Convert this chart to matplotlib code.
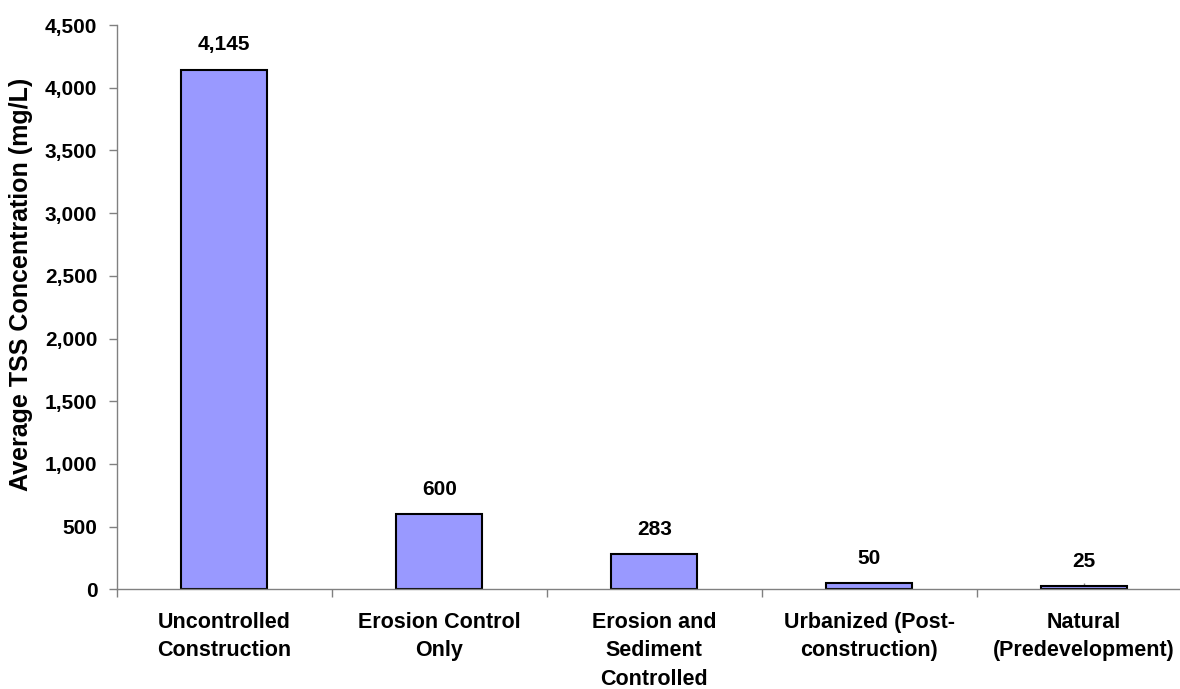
import numpy as np
import matplotlib
matplotlib.use("Agg")
import matplotlib.pyplot as plt
from matplotlib.ticker import FuncFormatter, FixedLocator

plt.rcParams['font.family'] = ['Liberation Sans', 'DejaVu Sans']
plt.rcParams['font.weight'] = 'bold'

categories = ["Uncontrolled\nConstruction", "Erosion Control\nOnly",
              "Erosion and\nSediment\nControlled", "Urbanized (Post-\nconstruction)",
              "Natural\n(Predevelopment)"]
tss = [4145, 600, 283, 50, 25]
yticks = [0, 500, 1000, 1500, 2000, 2500, 3000, 3500, 4000, 4500]

fig = plt.figure(figsize=(11.8, 6.89), dpi=100)
ax = fig.add_axes([0.0989, 0.1447, 0.9110, 0.8190])

x = np.arange(len(tss))
bars = ax.bar(x, tss, width=0.4, color='#9999FF', edgecolor='black', linewidth=1.5, zorder=2)

for xi, v in zip(x, tss):
    ax.annotate(f"{v:,}", (xi, v), xytext=(0, 11), textcoords='offset points',
                ha='center', va='bottom', fontsize=15, fontweight='bold')

ax.set_xlim(-0.5, len(tss) - 0.5)
ax.set_ylim(0, 4500)
ax.set_yticks(yticks)
ax.yaxis.set_major_formatter(FuncFormatter(lambda v, p: f"{int(v):,}"))
ax.tick_params(axis='y', labelsize=15, length=6, color='#808080', width=1, pad=8)

# boundaries between categories get outward ticks, labels sit at the centres
ax.xaxis.set_major_locator(FixedLocator(np.arange(len(tss) + 1) - 0.5))
ax.xaxis.set_minor_locator(FixedLocator(x))
ax.set_xticklabels([''] * (len(tss) + 1))
ax.set_xticklabels(categories, minor=True)
ax.tick_params(axis='x', which='major', length=6, color='#808080', width=1)
ax.tick_params(axis='x', which='minor', direction='in', length=4, color='#808080',
               width=1, labelsize=15.5, pad=16)
for lbl in ax.get_xticklabels(minor=True):
    lbl.set_linespacing(1.48)

ax.set_ylabel("Average TSS Concentration (mg/L)", fontsize=18, fontweight='bold')
ax.yaxis.set_label_coords(-0.078, 0.541)

for s in ['top', 'right']:
    ax.spines[s].set_visible(False)
for s in ['left', 'bottom']:
    ax.spines[s].set_color('#808080')
    ax.spines[s].set_linewidth(1)

fig.savefig("out.png", dpi=100)
